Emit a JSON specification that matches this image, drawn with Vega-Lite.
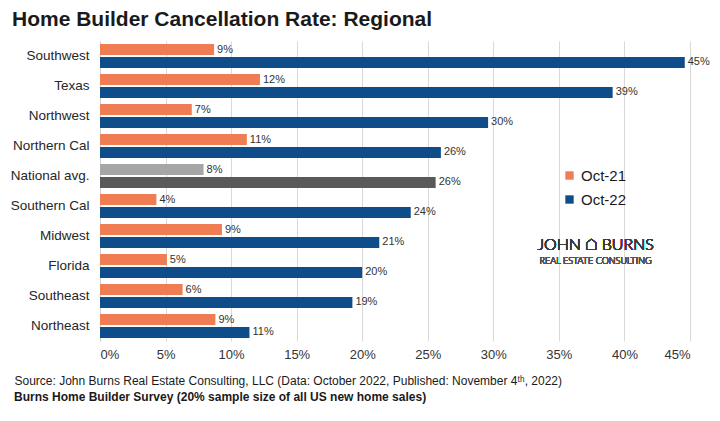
{
  "$schema": "https://vega.github.io/schema/vega-lite/v6.json",
  "background": "white",
  "padding": {"left": 10, "top": 9, "right": 10, "bottom": 4},
  "title": {
    "text": "Home Builder Cancellation Rate: Regional",
    "anchor": "start",
    "frame": "bounds",
    "font": "Liberation Sans",
    "fontSize": 21,
    "fontWeight": "bold",
    "color": "#1a1a1a",
    "offset": 11,
    "dx": 2
  },
  "config": {
    "font": "Liberation Sans",
    "view": {"stroke": null}
  },
  "vconcat": [
    {
      "width": 590,
      "height": 300,
      "title": {
        "text": "Burns Home Builder Survey (20% sample size of all US new home sales)",
        "orient": "bottom",
        "anchor": "start",
        "frame": "bounds",
        "font": "Liberation Sans",
        "fontSize": 12,
        "fontWeight": "bold",
        "color": "#1a1a1a",
        "offset": 6,
        "dx": 4
      },
      "data": {
        "values": [
          {"region": "Southwest", "series": "Oct-21", "value": 0.087},
          {"region": "Southwest", "series": "Oct-22", "value": 0.446},
          {"region": "Texas", "series": "Oct-21", "value": 0.122},
          {"region": "Texas", "series": "Oct-22", "value": 0.391},
          {"region": "Northwest", "series": "Oct-21", "value": 0.070},
          {"region": "Northwest", "series": "Oct-22", "value": 0.296},
          {"region": "Northern Cal", "series": "Oct-21", "value": 0.112},
          {"region": "Northern Cal", "series": "Oct-22", "value": 0.260},
          {"region": "National avg.", "series": "Oct-21", "value": 0.079},
          {"region": "National avg.", "series": "Oct-22", "value": 0.256},
          {"region": "Southern Cal", "series": "Oct-21", "value": 0.043},
          {"region": "Southern Cal", "series": "Oct-22", "value": 0.237},
          {"region": "Midwest", "series": "Oct-21", "value": 0.093},
          {"region": "Midwest", "series": "Oct-22", "value": 0.213},
          {"region": "Florida", "series": "Oct-21", "value": 0.051},
          {"region": "Florida", "series": "Oct-22", "value": 0.200},
          {"region": "Southeast", "series": "Oct-21", "value": 0.063},
          {"region": "Southeast", "series": "Oct-22", "value": 0.1925},
          {"region": "Northeast", "series": "Oct-21", "value": 0.088},
          {"region": "Northeast", "series": "Oct-22", "value": 0.114}
        ]
      },
      "transform": [
        {"calculate": "datum.region === 'National avg.' ? 'Nat ' + datum.series : datum.series", "as": "key"}
      ],
      "layer": [
        {
          "mark": {"type": "bar"},
          "encoding": {
            "y": {
              "field": "region", "type": "nominal",
              "sort": ["Southwest", "Texas", "Northwest", "Northern Cal", "National avg.", "Southern Cal", "Midwest", "Florida", "Southeast", "Northeast"],
              "scale": {"paddingInner": 0.2, "paddingOuter": 0.1},
              "axis": {
                "title": null, "ticks": false, "domain": true, "domainColor": "#d0d0d0",
                "labelFontSize": 13.5, "labelColor": "#262626", "labelPadding": 11,
                "minExtent": 90, "maxExtent": 90
              }
            },
            "yOffset": {"field": "series", "type": "nominal", "sort": ["Oct-21", "Oct-22"], "scale": {"paddingInner": 0.15, "paddingOuter": 0}},
            "x": {
              "field": "value", "type": "quantitative",
              "scale": {"domain": [0, 0.45], "nice": false},
              "axis": {
                "format": ".0%", "values": [0, 0.05, 0.1, 0.15, 0.2, 0.25, 0.3, 0.35, 0.4, 0.45],
                "ticks": false, "domain": false, "grid": true, "gridColor": "#d9d9d9",
                "labelFontSize": 13, "labelColor": "#333333", "labelPadding": 7,
                "title": "Source: John Burns Real Estate Consulting, LLC (Data: October 2022, Published: November 4ᵗʰ, 2022)",
                "titleFontSize": 12, "titleFontWeight": "normal", "titleColor": "#1a1a1a",
                "titleAlign": "left", "titleAnchor": "start", "titleX": -86, "titleY": 43, "titleBaseline": "alphabetic"
              }
            },
            "color": {
              "field": "key", "type": "nominal",
              "scale": {"domain": ["Oct-21", "Oct-22", "Nat Oct-21", "Nat Oct-22"], "range": ["#EF7C52", "#0F4C8A", "#A6A6A6", "#595959"]},
              "legend": {
                "values": ["Oct-21", "Oct-22"], "title": null, "orient": "none",
                "legendX": 462, "legendY": 127,
                "symbolType": "square", "symbolSize": 70, "labelFontSize": 15, "labelColor": "#1a1a1a",
                "rowPadding": 8, "labelOffset": 4
              }
            }
          }
        },
        {
          "mark": {"type": "text", "align": "left", "baseline": "middle", "dx": 3, "fontSize": 11, "color": "#333333"},
          "encoding": {
            "y": {"field": "region", "type": "nominal", "sort": ["Southwest", "Texas", "Northwest", "Northern Cal", "National avg.", "Southern Cal", "Midwest", "Florida", "Southeast", "Northeast"]},
            "yOffset": {"field": "series", "type": "nominal", "sort": ["Oct-21", "Oct-22"]},
            "x": {"field": "value", "type": "quantitative"},
            "text": {"field": "value", "format": ".0%"}
          }
        },
        {
          "mark": {"type": "text", "align": "center", "baseline": "middle", "fontSize": 16, "fontWeight": 300, "color": "#3a3a3a", "dy": 9, "font": "Lato"},
          "encoding": {
            "x": {"datum": 0.378},
            "y": {"datum": "Midwest", "band": 0.5},
            "text": {"value": "JOHN ⌂ BURNS"}
          }
        },
        {
          "mark": {"type": "text", "align": "center", "baseline": "middle", "fontSize": 9, "fontWeight": 300, "font": "Lato", "color": "#555555", "dy": 25},
          "encoding": {
            "x": {"datum": 0.378},
            "y": {"datum": "Midwest", "band": 0.5},
            "text": {"value": "REAL ESTATE CONSULTING"}
          }
        }
      ]
    }
  ]
}
